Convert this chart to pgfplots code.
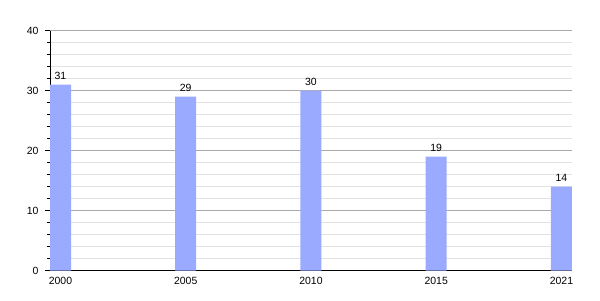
\documentclass[border=0pt]{standalone}
\usepackage{pgfplots}
\pgfplotsset{compat=1.18}
\usepackage{fontspec}
\setmainfont{Liberation Sans}
\definecolor{barc}{HTML}{99AAFF}
\definecolor{majg}{HTML}{AAAAAA}
\definecolor{ming}{HTML}{E2E2E2}
\begin{document}
\begin{tikzpicture}[x=1bp,y=1bp]
\path[use as bounding box] (0,0) rectangle (600,300);
\begin{axis}[
  at={(60.5bp,29.3bp)}, anchor=origin,
  scale only axis, width=522bp, height=240bp,
  ymin=0, ymax=40,
  xmin=-0.084, xmax=4.084,
  ytick={0,10,20,30,40},
  minor y tick num=4,
  xtick={0,1,2,3,4},
  xticklabels={2000,2005,2010,2015,2021},
  axis x line*=bottom, axis y line*=left,
  axis line style={-, black, line width=0.9pt},
  tick align=outside,
  major tick length=5bp, minor tick length=3bp,
  ytick style={black, line width=0.8pt},
  minor tick style={black, line width=0.8pt},
  xtick style={draw=none},
  ymajorgrids, yminorgrids,
  major grid style={majg, line width=0.6pt},
  minor grid style={ming, line width=0.6pt},
  tick label style={font=\fontsize{10.5}{12}\selectfont},
  /pgf/number format/assume math mode=true,
  yticklabel style={xshift=-3bp},
  xticklabel style={yshift=2.5bp},
  ybar, bar width=21bp,
  nodes near coords,
  nodes near coords style={font=\fontsize{10.5}{12}\selectfont, black, yshift=1.5bp},
  clip=false,
]
\addplot[fill=barc, draw=none] coordinates {(0,31) (1,29) (2,30) (3,19) (4,14)};
\end{axis}
\end{tikzpicture}
\end{document}
